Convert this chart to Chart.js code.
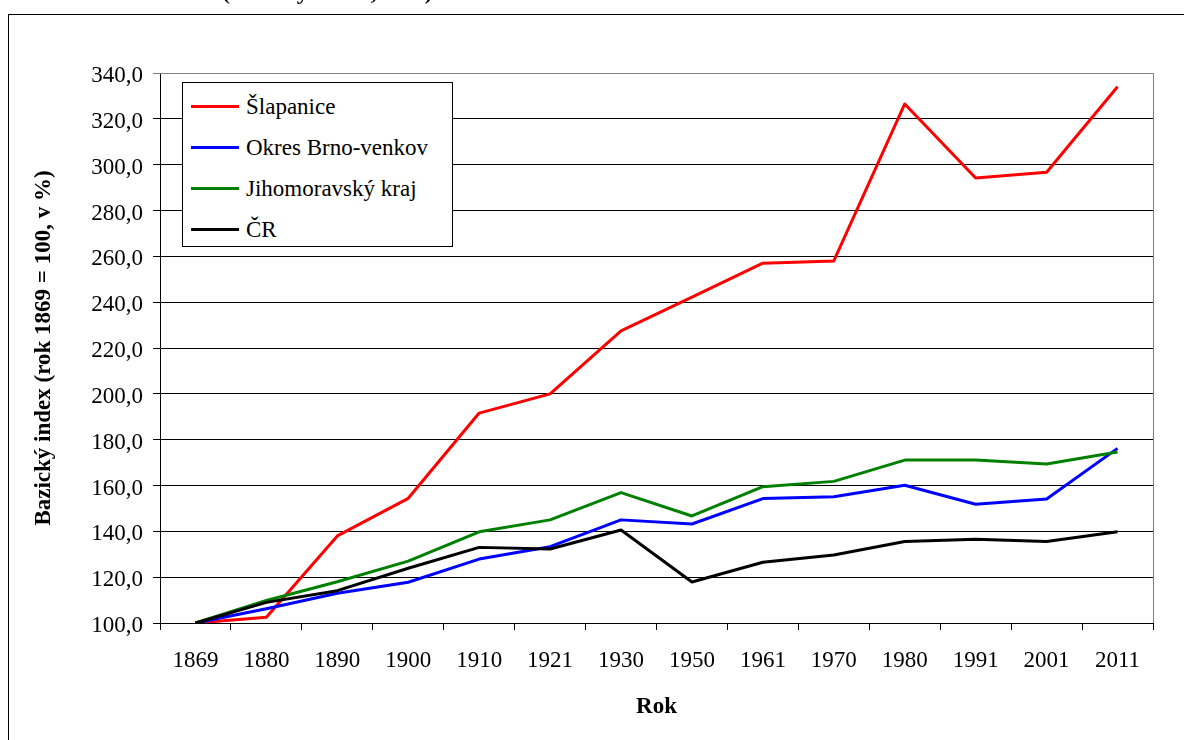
<!DOCTYPE html>
<html lang="cs">
<head>
<meta charset="utf-8">
<title>Bazický index</title>
<script src="https://cdn.jsdelivr.net/npm/chart.js@4.4.1/dist/chart.umd.min.js"></script>
<style>
  html, body { margin:0; padding:0; background:#fff; }
  #wrap { position:relative; width:1184px; height:740px; overflow:hidden; background:#fff; }
  #graf { position:absolute; left:0; top:0; }
  #frame { position:absolute; left:8px; top:14px; width:1300px; height:1000px; border:1px solid #000; }
  #nadpis { position:absolute; left:222px; top:-21px; font:bold 24px/24px 'Liberation Serif', 'Times New Roman', serif; white-space:nowrap; }
  #legenda { position:absolute; left:182px; top:82px; width:269px; height:160px; border:1px solid #000;
             padding-top:3px; background:#fff; font:23px 'Liberation Serif', 'Times New Roman', serif; }
  .row { height:41px; display:flex; align-items:center; }
  .row i { display:block; width:48px; height:3px; margin:0 7px 0 8px; }
</style>
</head>
<body>
<div id="wrap">
  <canvas id="graf" width="1184" height="740"></canvas>
  <div id="frame"></div>
  <div id="nadpis">(bazický index, v %)</div>
  <div id="legenda"></div>
</div>
<script>
const roky = ['1869','1880','1890','1900','1910','1921','1930','1950','1961','1970','1980','1991','2001','2011']

const slapanice = [100, 102.5, 138.0, 154.4, 191.6, 200.0, 227.5, 242.2, 257.0, 258.0, 326.5, 294.2, 296.7, 334.0]
const okres     = [100, 106.2, 113.0, 117.8, 127.9, 133.3, 145.0, 143.2, 154.3, 155.1, 160.1, 151.8, 154.1, 176.2]
const kraj      = [100, 109.8, 118.0, 127.0, 139.8, 145.0, 156.9, 146.7, 159.5, 161.8, 171.1, 171.1, 169.4, 174.6]
const cr        = [100, 109.0, 114.1, 123.9, 133.0, 132.3, 140.6, 117.9, 126.5, 129.7, 135.6, 136.5, 135.6, 139.8]

const nazvy  = ['Šlapanice', 'Okres Brno-venkov', 'Jihomoravský kraj', 'ČR']
const barvy  = ['#ff0000', '#0000ff', '#008000', '#000000']
const Y_MIN = 100, Y_MAX = 340, Y_KROK = 20

const FONT = "'Liberation Serif', 'Times New Roman', serif"

// pravý a horní okraj plochy grafu šedě
const okraj = {
  id: 'okraj',
  beforeDatasetsDraw(chart) {
    const { ctx, chartArea: a } = chart
    ctx.save()
    ctx.strokeStyle = '#808080'
    ctx.lineWidth = 1
    ctx.beginPath()
    ctx.moveTo(a.left, a.top + 0.5)
    ctx.lineTo(a.right + 0.5, a.top + 0.5)
    ctx.lineTo(a.right + 0.5, a.bottom)
    ctx.stroke()
    ctx.restore()
  }
}

const datasets = [slapanice, okres, kraj, cr].map((d, i) => ({
  label: nazvy[i],
  data: d,
  borderColor: barvy[i],
  backgroundColor: barvy[i],
  borderWidth: 3,
  pointRadius: 0,
  tension: 0,
  borderJoinStyle: 'round',
  order: 3 - i,
}))

const chart = new Chart(document.getElementById('graf'), {
  type: 'line',
  data: { labels: roky, datasets },
  options: {
    responsive: false,
    animation: false,
    layout: { padding: { top: 73, right: 31, left: 0, bottom: 0 } },
    plugins: { legend: { display: false }, tooltip: { enabled: false } },
    scales: {
      x: {
        offset: true,
        afterFit: s => { s.height = 117 },
        grid: { offset: true, drawOnChartArea: false, tickLength: 7, color: '#000' },
        border: { color: '#000', width: 1 },
        ticks: { color: '#000', font: { family: FONT, size: 23 }, padding: 17, maxRotation: 0, autoSkip: false },
        title: { display: true, text: 'Rok', color: '#000', font: { family: FONT, size: 23, weight: 'bold' }, padding: { bottom: 19 } },
      },
      y: {
        min: Y_MIN, max: Y_MAX,
        afterFit: s => { s.width = 160 },
        grid: { tickLength: 7, color: c => c.tick && c.tick.value === Y_MAX ? '#808080' : '#000' },
        border: { color: '#000', width: 1 },
        ticks: {
          stepSize: Y_KROK, color: '#000', padding: 10, labelOffset: 3,
          font: { family: FONT, size: 23 },
          callback: v => v.toFixed(1).replace('.', ','),
        },
        title: { display: true, text: 'Bazický index (rok 1869 = 100, v %)', color: '#000', font: { family: FONT, size: 23, weight: 'bold' }, padding: { top: 30 } },
      },
    },
  },
  plugins: [okraj],
})

// legenda v rámečku
const leg = document.getElementById('legenda')
chart.data.datasets.forEach(ds => {
  const row = document.createElement('div')
  row.className = 'row'
  const car = document.createElement('i')
  car.style.background = ds.borderColor
  row.appendChild(car)
  row.appendChild(document.createTextNode(ds.label))
  leg.appendChild(row)
})
</script>
</body>
</html>
